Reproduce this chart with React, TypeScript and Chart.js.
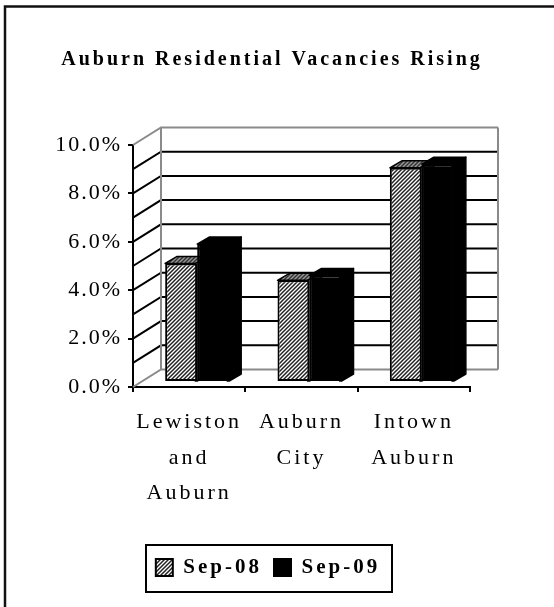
import React, { useEffect, useRef } from "react";
import { Chart, registerables } from "chart.js";

Chart.register(...registerables);

const categories = [["Lewiston", "and", "Auburn"], ["Auburn", "City"], ["Intown", "Auburn"]];
const sep08 = [4.9, 4.2, 8.85];
const sep09 = [5.7, 4.4, 9.0];
const seriesNames = ["Sep-08", "Sep-09"];
const chartTitle = "Auburn Residential Vacancies Rising";
const wallLevels = [0, 1, 2, 3, 4, 5, 6, 7, 8, 9, 10];

const FONT = "'Liberation Serif'";
const WALL = { dx: 28, dy: -17.5 };
const BAR = { dx: 8, dy: -5 };
const DEPTH = { dx: 12, dy: -7 };
const AREA = { left: 133, right: 470, top: 145, bottom: 387 };
const LEGEND_BOX = { left: 146, right: 392, top: 545, bottom: 592 };

function hatch(bg: string, fg: string) {
  const s = 4;
  const c = document.createElement("canvas");
  c.width = s;
  c.height = s;
  const g = c.getContext("2d")!;
  g.fillStyle = bg;
  g.fillRect(0, 0, s, s);
  g.strokeStyle = fg;
  g.lineWidth = 1.5;
  g.beginPath();
  g.moveTo(-1, 1);
  g.lineTo(1, -1);
  g.moveTo(-1, 5);
  g.lineTo(5, -1);
  g.moveTo(3, 5);
  g.lineTo(5, 3);
  g.stroke();
  return g.createPattern(c, "repeat")!;
}

const spacing = (chart: any) => {
  (chart.ctx as any).letterSpacing = "3px";
};

const scene = {
  id: "scene",
  beforeUpdate: spacing,
  beforeLayout: spacing,
  beforeDraw(chart: any) {
    spacing(chart);
    const { ctx, width, height } = chart;
    ctx.save();
    ctx.fillStyle = "#fff";
    ctx.fillRect(0, 0, width, height);
    ctx.strokeStyle = "#111";
    ctx.lineWidth = 2.5;
    ctx.beginPath();
    ctx.moveTo(5, height);
    ctx.lineTo(5, 6.5);
    ctx.lineTo(width, 6.5);
    ctx.stroke();
    ctx.restore();
  },
  afterLayout(chart: any) {
    const lg = chart.legend;
    // wider than the drawn frame so the two entries share one row
    lg.left = LEGEND_BOX.left - 21;
    lg.right = LEGEND_BOX.right + 19;
    lg.width = lg.right - lg.left;
    lg.top = LEGEND_BOX.top;
    lg.bottom = LEGEND_BOX.bottom;
    lg.height = lg.bottom - lg.top;
    const t = chart.titleBlock;
    t.left = 0;
    t.right = 544;
    t.width = 544;
    t.top = 48;
    t.bottom = 72;
    const y = chart.scales.y;
    if (!y.__wrapped) {
      const orig = y.drawLabels.bind(y);
      y.drawLabels = (a: any) => {
        chart.ctx.letterSpacing = "2px";
        orig(a);
        chart.ctx.letterSpacing = "3px";
      };
      y.__wrapped = true;
    }
  },
  beforeDatasetsDraw(chart: any) {
    const { ctx } = chart;
    const y = chart.scales.y;
    const { left, right } = chart.chartArea;
    ctx.save();
    ctx.lineCap = "butt";
    wallLevels.forEach((v) => {
      const py = y.getPixelForValue(v);
      const edge = v === 0 || v === wallLevels[wallLevels.length - 1];
      ctx.strokeStyle = edge ? "#8a8a8a" : "#000";
      ctx.lineWidth = 2;
      ctx.beginPath();
      ctx.moveTo(left, py);
      ctx.lineTo(left + WALL.dx, py + WALL.dy);
      ctx.lineTo(right + WALL.dx, py + WALL.dy);
      ctx.stroke();
    });
    ctx.strokeStyle = "#8a8a8a";
    ctx.lineWidth = 2;
    ctx.beginPath();
    ctx.moveTo(left + WALL.dx, y.getPixelForValue(0) + WALL.dy);
    ctx.lineTo(left + WALL.dx, y.getPixelForValue(10) + WALL.dy);
    ctx.moveTo(right + WALL.dx, y.getPixelForValue(0) + WALL.dy);
    ctx.lineTo(right + WALL.dx, y.getPixelForValue(10) + WALL.dy);
    ctx.stroke();

    // extruded faces: earlier series first so later bars sit over them
    const faces = [hatch("#9a9a9a", "#333"), "#000"];
    [0, 1].forEach((i) => {
      chart.getDatasetMeta(i).data.forEach((b: any) => {
        const l = b.x - b.width / 2 + BAR.dx;
        const r = b.x + b.width / 2 + BAR.dx;
        const t = b.y + BAR.dy;
        const bt = b.base + BAR.dy;
        ctx.fillStyle = faces[i];
        ctx.strokeStyle = "#000";
        ctx.lineWidth = 1.5;
        ctx.lineJoin = "round";
        ctx.beginPath();
        ctx.moveTo(l, t);
        ctx.lineTo(l + DEPTH.dx, t + DEPTH.dy);
        ctx.lineTo(r + DEPTH.dx, t + DEPTH.dy);
        ctx.lineTo(r, t);
        ctx.closePath();
        ctx.fill();
        ctx.stroke();
        ctx.fillStyle = i === 0 ? "#555" : "#000";
        ctx.beginPath();
        ctx.moveTo(r - 2, t);
        ctx.lineTo(r + DEPTH.dx, t + DEPTH.dy);
        ctx.lineTo(r + DEPTH.dx, bt + DEPTH.dy);
        ctx.lineTo(r, bt);
        ctx.lineTo(r - 2, bt);
        ctx.closePath();
        ctx.fill();
        ctx.stroke();
      });
    });
    ctx.restore();
  },
  beforeDatasetDraw(chart: any) {
    chart.ctx.save();
    chart.ctx.translate(BAR.dx, BAR.dy);
  },
  afterDatasetDraw(chart: any) {
    chart.ctx.restore();
  },
  afterDraw(chart: any) {
    const { ctx } = chart;
    ctx.save();
    ctx.strokeStyle = "#000";
    ctx.lineWidth = 2;
    ctx.strokeRect(LEGEND_BOX.left, LEGEND_BOX.top, LEGEND_BOX.right - LEGEND_BOX.left, LEGEND_BOX.bottom - LEGEND_BOX.top);
    ctx.restore();
  },
};

export default function App() {
  const ref = useRef<HTMLCanvasElement>(null);
  useEffect(() => {
    document.body.style.margin = "0";
    const pattern = hatch("#fff", "#222");
    const chart = new Chart(ref.current!, {
      type: "bar",
      data: {
        labels: categories as any,
        datasets: [
          { label: seriesNames[0], data: sep08, backgroundColor: pattern as any, borderColor: "#000", borderWidth: 2, borderSkipped: false, clip: false as any },
          { label: seriesNames[1], data: sep09, backgroundColor: "#000", borderColor: "#000", borderWidth: 2, borderSkipped: false, clip: false as any },
        ],
      },
      plugins: [scene],
      options: {
        animation: false,
        responsive: false,
        layout: { padding: { left: 0, right: 554 - AREA.right, top: 0, bottom: 0 } },
        datasets: { bar: { categoryPercentage: 0.57, barPercentage: 1 } },
        scales: {
          x: {
            afterFit: (s: any) => { s.height = 607 - AREA.bottom - s.chart.legend.height; },
            border: { color: "#000", width: 2 },
            grid: { drawOnChartArea: false, color: "#000", lineWidth: 2, tickLength: 5 },
            ticks: { color: "#000", padding: 13, maxRotation: 0, autoSkip: false, font: { family: FONT, size: 22, lineHeight: 1.6 } },
          },
          y: {
            min: 0,
            max: 10,
            afterFit: (s: any) => { s.width = AREA.left; },
            border: { color: "#000", width: 2 },
            grid: { drawOnChartArea: false, color: "#000", lineWidth: 2, tickLength: 5 },
            ticks: { stepSize: 2, color: "#000", padding: 6, callback: (v: any) => Number(v).toFixed(1) + "%", font: { family: FONT, size: 22 } },
          },
        },
        plugins: {
          tooltip: { enabled: false },
          title: { display: true, text: chartTitle, color: "#000", padding: { top: 0, bottom: AREA.top - 24 }, font: { family: FONT, size: 20, weight: "bold", lineHeight: 1.2 } },
          legend: {
            position: "bottom",
            labels: { color: "#000", boxWidth: 17, boxHeight: 17, padding: 12, font: { family: FONT, size: 21, weight: "bold" } },
          },
        },
      } as any,
    });
    return () => chart.destroy();
  }, []);
  return <canvas ref={ref} width={554} height={607} style={{ display: "block" }} />;
}
